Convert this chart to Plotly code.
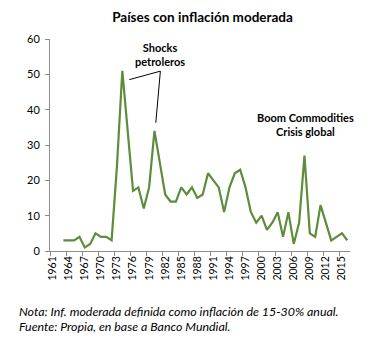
import plotly.graph_objects as go

years = list(range(1963, 2017))
values = [3, 3, 3, 4, 1, 2, 5, 4, 4, 3,
          24, 51, 34, 17, 18, 12, 18, 34, 25, 16,
          14, 14, 18, 16, 18, 15, 16, 22, 20, 18,
          11, 18, 22, 23, 18, 11, 8, 10, 6, 8,
          11, 4, 11, 2, 8, 27, 5, 4, 13, 8,
          3, 4, 5, 3]

tick_years = list(range(1961, 2017, 3))
tick_labels = [str(y) for y in tick_years]
y_ticks = [0, 10, 20, 30, 40, 50, 60]

title_text = "Países con inflación moderada"
shock_label = "Shocks<br>petroleros"
shock_label_pos = (1981.1, 55.5)
shock_leader_1 = [(1975.3, 48.5), (1981.1, 50.9)]
shock_leader_2 = [(1981.1, 50.9), (1980.25, 36.3)]
boom_label = "Boom Commodities<br>Crisis global"
boom_label_pos = (2008.1, 35.8)
note_lines = ["Nota: Inf. moderada definida como inflación de 15-30% anual.",
              "Fuente: Propia, en base a Banco Mundial."]

FONT = "Lato"
AXIS_COLOR = "#8c8c8c"

fig = go.Figure()
fig.add_trace(go.Scatter(x=years, y=values, mode="lines",
                         line=dict(color="#5E8C3A", width=2.2),
                         hoverinfo="skip", showlegend=False))

for seg in (shock_leader_1, shock_leader_2):
    fig.add_shape(type="line", xref="x", yref="y",
                  x0=seg[0][0], y0=seg[0][1], x1=seg[1][0], y1=seg[1][1],
                  line=dict(color="black", width=1))

fig.add_annotation(x=shock_label_pos[0], y=shock_label_pos[1], xref="x", yref="y",
                   text="<b>" + shock_label.replace("<br>", "</b><br><b>") + "</b>",
                   showarrow=False, font=dict(family=FONT, size=11, color="black"),
                   align="center", yanchor="middle")
fig.add_annotation(x=boom_label_pos[0], y=boom_label_pos[1], xref="x", yref="y",
                   text="<b>" + boom_label.replace("<br>", "</b><br><b>") + "</b>",
                   showarrow=False, font=dict(family=FONT, size=11, color="black"),
                   align="center", yanchor="middle")

for i, line in enumerate(note_lines):
    fig.add_annotation(x=-33 / 300, y=(251.5 - 312.5 - 15 * i) / 213,
                       xref="paper", yref="paper", text="<i>" + line + "</i>",
                       showarrow=False, xanchor="left", yanchor="middle",
                       font=dict(family=FONT, size=12.4, color="black"))

fig.update_layout(
    width=379, height=351,
    margin=dict(l=50, r=29, t=38.5, b=99.5),
    paper_bgcolor="white", plot_bgcolor="white",
    font=dict(family=FONT, color="black"),
    title=dict(text="<b>" + title_text + "</b>", x=202.5 / 379, xanchor="center",
               y=1 - 17.5 / 351, yanchor="middle",
               font=dict(family=FONT, size=13.5, color="black")),
)
fig.update_xaxes(range=[1960.5, 2016.5], tickmode="array", tickvals=tick_years,
                 ticktext=tick_labels, tickangle=-90, ticks="", showgrid=False,
                 zeroline=False, showline=True, linecolor=AXIS_COLOR, linewidth=1,
                 tickfont=dict(family=FONT, size=10.5, color="black"),
                 minor=dict(ticks="outside", ticklen=4, tickcolor=AXIS_COLOR,
                            tickvals=[y - 0.5 for y in tick_years], showgrid=False),
                 fixedrange=True)
fig.update_yaxes(range=[0, 60], tickmode="array", tickvals=y_ticks,
                 ticks="outside", ticklen=4, tickcolor=AXIS_COLOR, showgrid=False,
                 zeroline=False, showline=True, linecolor=AXIS_COLOR, linewidth=1,
                 tickfont=dict(family=FONT, size=11, color="black"),
                 ticklabelstandoff=3, fixedrange=True)

fig.write_html("out.html")
